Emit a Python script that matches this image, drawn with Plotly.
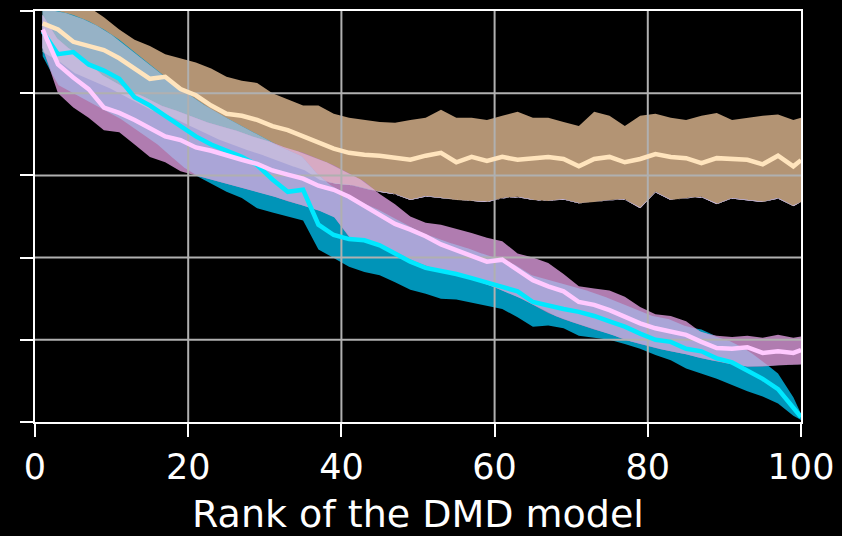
import numpy as np
import plotly.graph_objects as go

# ---------------- data ----------------
rank = [1, 3, 5, 7, 9, 11, 13, 15, 17, 19, 21, 23, 25, 27, 29, 31, 33, 35, 37, 39,
        41, 43, 45, 47, 49, 51, 53, 55, 57, 59, 61, 63, 65, 67, 69, 71, 73, 75, 77, 79,
        81, 83, 85, 87, 89, 91, 93, 95, 97, 99, 100]

tan_mean = [0.97, 0.955, 0.925, 0.915, 0.905, 0.885, 0.86, 0.835, 0.84, 0.81,
            0.795, 0.77, 0.75, 0.745, 0.735, 0.72, 0.71, 0.695, 0.68, 0.665,
            0.655, 0.65, 0.648, 0.642, 0.638, 0.648, 0.655, 0.632, 0.645, 0.635,
            0.645, 0.638, 0.642, 0.645, 0.64, 0.622, 0.64, 0.645, 0.632, 0.64,
            0.652, 0.645, 0.642, 0.63, 0.642, 0.64, 0.638, 0.627, 0.648, 0.622, 0.637]
tan_upper = [1.04, 1.03, 1.02, 1.01, 0.985, 0.955, 0.93, 0.915, 0.895, 0.885,
             0.875, 0.86, 0.84, 0.83, 0.825, 0.80, 0.785, 0.77, 0.77, 0.75,
             0.74, 0.735, 0.73, 0.728, 0.735, 0.74, 0.76, 0.74, 0.74, 0.735,
             0.745, 0.755, 0.74, 0.74, 0.73, 0.72, 0.755, 0.745, 0.72, 0.745,
             0.75, 0.74, 0.735, 0.745, 0.752, 0.735, 0.74, 0.745, 0.748, 0.735, 0.74]
tan_lower = [0.90, 0.88, 0.85, 0.835, 0.82, 0.80, 0.78, 0.76, 0.75, 0.73,
             0.715, 0.695, 0.68, 0.665, 0.655, 0.64, 0.625, 0.615, 0.59, 0.58,
             0.578, 0.568, 0.56, 0.555, 0.54, 0.55, 0.545, 0.54, 0.538, 0.535,
             0.545, 0.548, 0.54, 0.538, 0.542, 0.532, 0.535, 0.54, 0.542, 0.52,
             0.56, 0.54, 0.545, 0.548, 0.53, 0.545, 0.54, 0.535, 0.545, 0.525, 0.535]

blue_mean = [0.95, 0.895, 0.90, 0.87, 0.855, 0.835, 0.79, 0.77, 0.745, 0.72,
             0.695, 0.675, 0.66, 0.645, 0.625, 0.59, 0.56, 0.565, 0.48, 0.455,
             0.445, 0.442, 0.43, 0.41, 0.39, 0.375, 0.368, 0.36, 0.35, 0.34,
             0.33, 0.318, 0.292, 0.283, 0.275, 0.268, 0.258, 0.245, 0.232, 0.215,
             0.2, 0.195, 0.178, 0.172, 0.155, 0.145, 0.125, 0.105, 0.08, 0.035, 0.012]
blue_upper = [1.0, 1.0, 0.99, 0.975, 0.955, 0.93, 0.90, 0.87, 0.84, 0.81,
              0.785, 0.76, 0.74, 0.72, 0.70, 0.68, 0.66, 0.645, 0.60, 0.57,
              0.55, 0.53, 0.515, 0.495, 0.475, 0.455, 0.445, 0.43, 0.42, 0.405,
              0.395, 0.38, 0.355, 0.345, 0.335, 0.325, 0.315, 0.30, 0.285, 0.27,
              0.255, 0.25, 0.232, 0.225, 0.208, 0.195, 0.175, 0.148, 0.118, 0.06, 0.02]
blue_lower = [0.89, 0.82, 0.80, 0.78, 0.76, 0.74, 0.715, 0.69, 0.66, 0.625,
              0.60, 0.58, 0.56, 0.545, 0.52, 0.51, 0.50, 0.49, 0.42, 0.40,
              0.378, 0.365, 0.357, 0.34, 0.322, 0.312, 0.30, 0.298, 0.29, 0.282,
              0.275, 0.255, 0.232, 0.235, 0.228, 0.21, 0.205, 0.20, 0.19, 0.178,
              0.163, 0.15, 0.13, 0.118, 0.105, 0.09, 0.075, 0.062, 0.045, 0.015, 0.005]

pink_mean = [0.955, 0.87, 0.838, 0.81, 0.765, 0.752, 0.735, 0.715, 0.695, 0.686,
             0.668, 0.66, 0.648, 0.638, 0.628, 0.612, 0.602, 0.592, 0.575, 0.565,
             0.548, 0.525, 0.505, 0.482, 0.468, 0.452, 0.432, 0.418, 0.402, 0.39,
             0.395, 0.37, 0.345, 0.33, 0.318, 0.292, 0.285, 0.272, 0.255, 0.24,
             0.228, 0.22, 0.212, 0.195, 0.18, 0.178, 0.182, 0.168, 0.172, 0.168, 0.175]
pink_upper = [0.99, 0.93, 0.90, 0.875, 0.84, 0.82, 0.80, 0.785, 0.765, 0.755,
              0.74, 0.725, 0.715, 0.705, 0.69, 0.68, 0.665, 0.655, 0.64, 0.625,
              0.605, 0.585, 0.555, 0.53, 0.50, 0.485, 0.48, 0.47, 0.46, 0.448,
              0.44, 0.41, 0.40, 0.387, 0.36, 0.33, 0.325, 0.32, 0.305, 0.28,
              0.262, 0.258, 0.245, 0.218, 0.21, 0.207, 0.21, 0.205, 0.212, 0.205, 0.208]
pink_lower = [0.91, 0.80, 0.765, 0.74, 0.71, 0.705, 0.675, 0.645, 0.632, 0.61,
              0.60, 0.59, 0.58, 0.57, 0.56, 0.55, 0.537, 0.527, 0.515, 0.50,
              0.45, 0.44, 0.43, 0.415, 0.395, 0.38, 0.37, 0.36, 0.348, 0.335,
              0.32, 0.305, 0.285, 0.265, 0.25, 0.238, 0.225, 0.215, 0.20, 0.19,
              0.18, 0.172, 0.165, 0.155, 0.148, 0.14, 0.135, 0.135, 0.138, 0.14, 0.14]

x_ticks = [0, 20, 40, 60, 80, 100]
x_tick_labels = ["0", "20", "40", "60", "80", "100"]
y_ticks = [0, 0.2, 0.4, 0.6, 0.8, 1.0]
x_title = "Rank of the DMD model"

# ---------------- styles ----------------
C_T, C_B, C_P = "#b39474", "#0094b8", "#b07cb0"
C_TB, C_TP, C_BP, C_TBP = "#96b2c6", "#d7aac3", "#aaa5d7", "#c3b9dc"
L_T, L_B, L_P = "#ffe4bd", "#00e8ff", "#ffc9ff"
GRID = "#b0b0b0"

fig = go.Figure()


def add_band(xs, lo, hi, color):
    xs = np.asarray(xs, float)
    lo = np.asarray(lo, float)
    hi = np.asarray(hi, float)
    fig.add_trace(go.Scatter(
        x=np.concatenate([xs, xs[::-1]]),
        y=np.concatenate([lo, hi[::-1]]),
        fill="toself", fillcolor=color, mode="lines",
        line=dict(width=0, color=color), hoverinfo="skip"))


bands = {
    "T": (tan_lower, tan_upper),
    "B": (blue_lower, blue_upper),
    "P": (pink_lower, pink_upper),
}

# single bands (opaque), then their overlaps on top
add_band(rank, tan_lower, tan_upper, C_T)
add_band(rank, blue_lower, blue_upper, C_B)
add_band(rank, pink_lower, pink_upper, C_P)

xf = np.linspace(rank[0], rank[-1], 1981)


def fine(a):
    return np.interp(xf, rank, a)


def overlap(keys, color):
    lo = np.max([fine(bands[k][0]) for k in keys], axis=0)
    hi = np.min([fine(bands[k][1]) for k in keys], axis=0)
    hi = np.maximum(hi, lo)
    add_band(xf, lo, hi, color)


overlap(["T", "B"], C_TB)
overlap(["T", "P"], C_TP)
overlap(["B", "P"], C_BP)
overlap(["T", "B", "P"], C_TBP)

# grid lines (visible over the bands)
gx, gy = [], []
for v in x_ticks[1:-1]:
    gx += [v, v, None]
    gy += [y_ticks[0], y_ticks[-1], None]
for h in y_ticks[1:-1]:
    gx += [x_ticks[0], x_ticks[-1], None]
    gy += [h, h, None]
fig.add_trace(go.Scatter(x=gx, y=gy, mode="lines",
                         line=dict(color=GRID, width=2), hoverinfo="skip"))

# mean lines
fig.add_trace(go.Scatter(x=rank, y=tan_mean, mode="lines",
                         line=dict(color=L_T, width=4.5)))
fig.add_trace(go.Scatter(x=rank, y=blue_mean, mode="lines",
                         line=dict(color=L_B, width=4.5)))
fig.add_trace(go.Scatter(x=rank, y=pink_mean, mode="lines",
                         line=dict(color=L_P, width=4.5)))

fig.update_layout(
    width=842, height=536,
    paper_bgcolor="black", plot_bgcolor="black",
    margin=dict(l=35, r=41, t=11, b=114),
    showlegend=False,
    font=dict(family="DejaVu Sans", color="white"),
)
fig.update_xaxes(
    automargin=False,
    range=[0, 100], tickmode="array", tickvals=x_ticks, ticktext=x_tick_labels,
    tickfont=dict(size=35, color="white", family="DejaVu Sans"),
    ticks="outside", ticklen=13, tickwidth=2, tickcolor="white",
    showline=True, linecolor="white", linewidth=2, mirror=True,
    showgrid=False, zeroline=False,
    title=dict(text=x_title, font=dict(size=38, color="white", family="DejaVu Sans"),
               standoff=14),
)
fig.update_yaxes(
    automargin=False,
    range=[0, 1], tickmode="array", tickvals=y_ticks, showticklabels=False,
    ticks="outside", ticklen=13, tickwidth=2, tickcolor="white",
    showline=True, linecolor="white", linewidth=2, mirror=True,
    showgrid=False, zeroline=False,
)

fig.write_html(
    "out.html",
    config={"displayModeBar": False},
    post_script="document.body.style.margin='0';document.body.style.background='black';"
                "document.body.style.overflow='hidden';",
)
